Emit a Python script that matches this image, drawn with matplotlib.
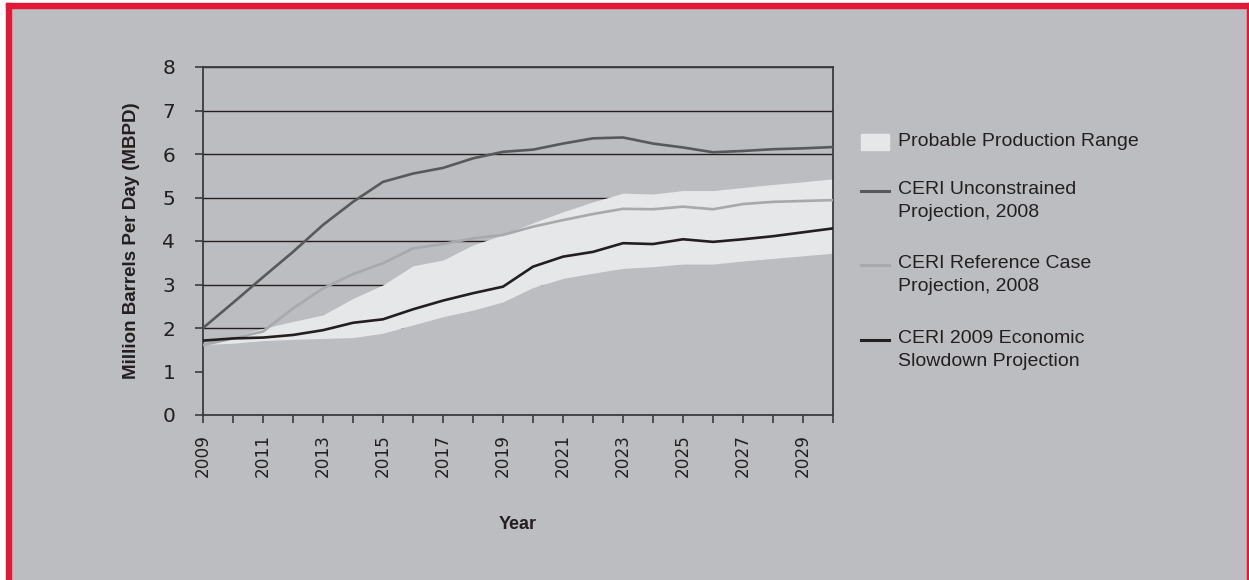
import matplotlib.pyplot as plt
from matplotlib.patches import Rectangle
from matplotlib.lines import Line2D

years = list(range(2009, 2031))

# верхняя и нижняя граница вероятного диапазона
range_upper = [1.62, 1.80, 1.99, 2.15, 2.30, 2.68, 2.99, 3.43, 3.56, 3.91, 4.14, 4.42,
               4.67, 4.90, 5.10, 5.08, 5.16, 5.16, 5.23, 5.30, 5.36, 5.43]
range_lower = [1.62, 1.65, 1.71, 1.74, 1.76, 1.78, 1.88, 2.07, 2.26, 2.41, 2.60, 2.93,
               3.14, 3.26, 3.37, 3.41, 3.47, 3.47, 3.54, 3.60, 3.66, 3.72]

unconstrained = [2.00, 2.58, 3.17, 3.75, 4.37, 4.90, 5.36, 5.55, 5.68, 5.90, 6.05, 6.10,
                 6.24, 6.36, 6.38, 6.24, 6.15, 6.04, 6.07, 6.11, 6.13, 6.16]
reference = [1.61, 1.76, 1.92, 2.45, 2.91, 3.24, 3.49, 3.83, 3.93, 4.06, 4.14, 4.33,
             4.48, 4.62, 4.74, 4.73, 4.79, 4.73, 4.85, 4.90, 4.92, 4.94]
slowdown = [1.71, 1.76, 1.78, 1.84, 1.95, 2.12, 2.20, 2.43, 2.63, 2.80, 2.95, 3.41,
            3.64, 3.75, 3.95, 3.93, 4.04, 3.98, 4.04, 4.11, 4.20, 4.29]

legend_labels = ["Probable Production Range",
                 "CERI Unconstrained\nProjection, 2008",
                 "CERI Reference Case\nProjection, 2008",
                 "CERI 2009 Economic\nSlowdown Projection"]

bg = "#bcbdc1"
band = "#e6e7e9"
c_unc = "#58595b"
c_ref = "#a7a9ac"
c_slow = "#231f20"
txt = "#231f20"
red = "#e31837"

plt.rcParams['font.family'] = ['Liberation Sans', 'DejaVu Sans']

W, H = 1249, 580
fig = plt.figure(figsize=(W / 100, H / 100), dpi=100, facecolor="white")

def fx(px):
    return px / W

def fy(py):
    return 1 - py / H

# фон и красная рамка
fig.patches.append(Rectangle((fx(11), 0), fx(W - 11), (H - 8) / H,
                             transform=fig.transFigure, color=bg, zorder=-10))
fig.patches.append(Rectangle((fx(6), 0), fx(5), (H - 3) / H,
                             transform=fig.transFigure, color=red, zorder=-9))
fig.patches.append(Rectangle((fx(6), fy(8)), fx(W - 6), 5 / H,
                             transform=fig.transFigure, color=red, zorder=-9))
fig.patches.append(Rectangle((fx(1247), 0), fx(2), (H - 3) / H,
                             transform=fig.transFigure, color=red, zorder=-9))

ax = fig.add_axes([fx(203), fy(415), fx(833 - 203), (415 - 67) / H])
ax.set_facecolor(bg)

for v in range(1, 9):
    ax.axhline(v, color="#231f20", linewidth=1.0, zorder=1)

# нижняя часть закрашена цветом фона, поверх неё белая полоса диапазона
ax.fill_between(years, 0, range_lower, color=bg, linewidth=0, zorder=2)
ax.fill_between(years, range_lower, range_upper, color=band, linewidth=0, zorder=2)

ax.plot(years, unconstrained, color=c_unc, linewidth=1.9, zorder=4)
ax.plot(years, reference, color=c_ref, linewidth=1.9, zorder=4)
ax.plot(years, slowdown, color=c_slow, linewidth=1.9, zorder=5)

ax.set_xlim(2009, 2030)
ax.set_ylim(0, 8)
ax.set_xticks(years)
ax.set_xticklabels([str(y) if (y - 2009) % 2 == 0 else "" for y in years],
                   rotation=90, fontsize=12.2, color=txt, family="DejaVu Sans")
ax.set_yticks(range(0, 9))
ax.set_yticklabels([str(v) for v in range(0, 9)], fontsize=14.5, color=txt,
                   family="DejaVu Sans")
ax.tick_params(axis="x", direction="out", length=6, width=1.2, color="#3b3b3d", pad=8)
ax.tick_params(axis="y", direction="out", length=6, width=1.2, color="#3b3b3d", pad=14)
for s in ax.spines.values():
    s.set_color("#3b3b3d")
    s.set_linewidth(1.3)

ax.set_xlabel("Year", fontsize=13, fontweight="bold", color=txt, labelpad=28,
              family=['Liberation Sans Narrow', 'Liberation Sans'])
ax.set_ylabel("Million Barrels Per Day (MBPD)", fontsize=13.5, fontweight="bold", color=txt,
              labelpad=16, family=['Liberation Sans Narrow', 'Liberation Sans'])

# легенда справа
fig.patches.append(Rectangle((fx(861), fy(150)), fx(28), 16 / H,
                             transform=fig.transFigure, color=band))
fig.text(fx(898), fy(142), legend_labels[0], fontsize=14, color=txt, va="center")
for lab, col, ly in zip(legend_labels[1:], [c_unc, c_ref, c_slow], [191, 265, 340]):
    fig.lines.append(Line2D([fx(861), fx(889)], [fy(ly), fy(ly)],
                            transform=fig.transFigure, color=col, linewidth=2.2))
    fig.text(fx(898), fy(ly - 10), lab, fontsize=14, color=txt, va="top",
             linespacing=1.45)

fig.savefig("out.png", dpi=100, facecolor=fig.get_facecolor())
